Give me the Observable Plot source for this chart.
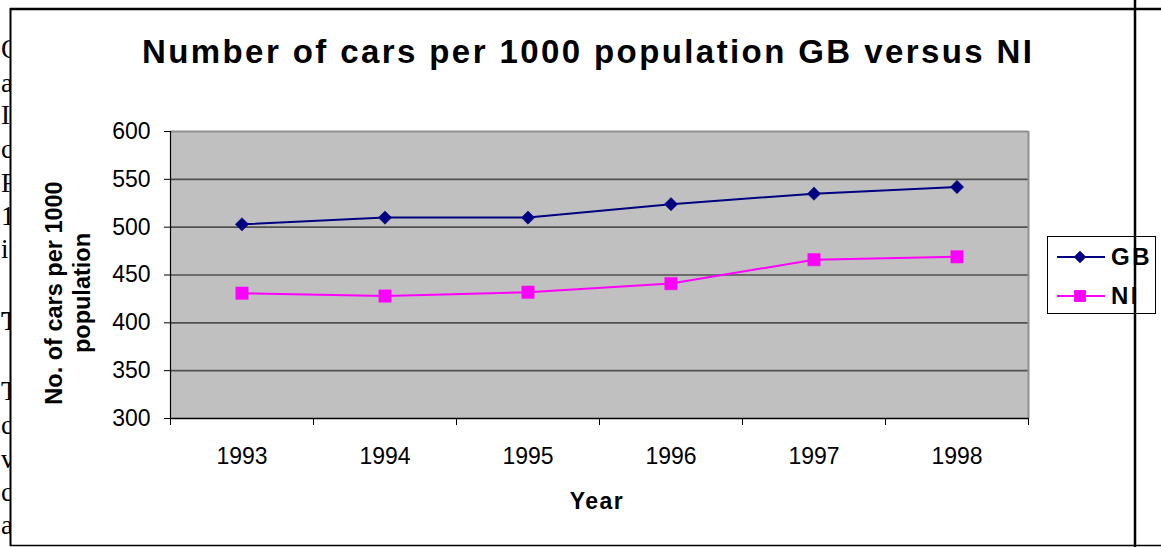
<!DOCTYPE html>
<html>
<head>
<meta charset="utf-8">
<script src="https://cdn.jsdelivr.net/npm/d3@7"></script>
<script src="https://cdn.jsdelivr.net/npm/@observablehq/plot@0.6"></script>
<style>
  html, body { margin: 0; padding: 0; background: #fff; }
  #wrap { position: relative; width: 1161px; height: 547px; overflow: hidden; font-family: "Liberation Sans", Arial, sans-serif; }
  #wrap > svg { position: absolute; left: 0; top: 0; }
  #doc { position: absolute; left: 0; top: 0; width: 10px; height: 547px; overflow: hidden; font-family: "Liberation Serif", "Times New Roman", serif; font-size: 27px; }
  #doc span { position: absolute; left: 1px; line-height: 1; }
</style>
</head>
<body>
<div id="wrap"><div id="doc"></div></div>
<script>
// ---- data ----
const years = [1993, 1994, 1995, 1996, 1997, 1998];
const gbValues = [503, 510, 510, 524, 535, 542];
const niValues = [431, 428, 432, 441, 466, 469];
const yTicks = [300, 350, 400, 450, 500, 550, 600];
const seriesNames = ["GB", "NI"];
const seriesColors = ["#000080", "#ff00ff"];
const seriesSymbols = ["diamond2", "square"];
const titleText = "Number of cars per 1000 population GB versus NI";
const yLabelLines = ["No. of cars per 1000", "population"];
const xLabelText = "Year";
const docLetters = ["C", "a", "I", "c", "F", "1", "i", "T", "T", "c", "v", "c", "a"];

const rows = years.flatMap((yr, i) => [
  {year: yr, value: gbValues[i], series: seriesNames[0]},
  {year: yr, value: niValues[i], series: seriesNames[1]}
]);
const bandEdges = years.map(y => y - 0.5).concat([years[years.length - 1] + 0.5]);

const W = 1161, H = 547;
const chart = Plot.plot({
  width: W, height: H,
  marginLeft: 170, marginRight: 133, marginTop: 131, marginBottom: 129,
  style: {fontFamily: "'Liberation Sans', Arial, sans-serif", fontSize: "23px", color: "#000", background: "transparent", overflow: "visible"},
  x: {type: "linear", domain: [bandEdges[0], bandEdges[bandEdges.length - 1]], axis: null},
  y: {domain: [yTicks[0], yTicks[yTicks.length - 1]], axis: null},
  color: {domain: seriesNames, range: seriesColors},
  marks: [
    Plot.frame({fill: "#c0c0c0", stroke: null}),
    Plot.ruleY(yTicks.slice(1, -1), {stroke: "#505050", strokeWidth: 1.6}),
    Plot.ruleY([yTicks[yTicks.length - 1]], {stroke: "#8f8f8f", strokeWidth: 2}),
    Plot.ruleX([bandEdges[bandEdges.length - 1]], {stroke: "#8f8f8f", strokeWidth: 2}),
    Plot.ruleY([yTicks[0]], {stroke: "#000", strokeWidth: 1.5}),
    Plot.ruleX([bandEdges[0]], {stroke: "#000", strokeWidth: 1.2}),
    Plot.axisY({ticks: yTicks, tickSize: 6, tickPadding: 14, tickFormat: d => String(d), label: null, stroke: "#000"}),
    Plot.axisX({ticks: bandEdges, tickSize: 7, tickFormat: () => "", label: null, stroke: "#000"}),
    Plot.axisX({ticks: years, tickSize: 0, tickPadding: 29, tickFormat: d => String(d), label: null}),
    Plot.line(rows, {x: "year", y: "value", z: "series", stroke: "series", strokeWidth: 2}),
    Plot.dot(rows.filter(d => d.series === seriesNames[0]), {x: "year", y: "value", symbol: () => seriesSymbols[0], fill: seriesColors[0], stroke: seriesColors[0], strokeWidth: 0.5, r: 6}),
    Plot.dot(rows.filter(d => d.series === seriesNames[1]), {x: "year", y: "value", symbol: () => seriesSymbols[1], fill: seriesColors[1], stroke: seriesColors[1], strokeWidth: 0.5, r: 7})
  ]
});
const wrap = document.getElementById("wrap");
wrap.appendChild(chart);

// ---- overlay: title, axis titles, legend, document frame ----
const ov = d3.select(wrap).append("svg")
  .attr("width", W).attr("height", H)
  .style("font-family", "'Liberation Sans', Arial, sans-serif");

ov.append("text")
  .attr("x", 142).attr("y", 63)
  .attr("textLength", 890).attr("lengthAdjust", "spacing")
  .attr("font-size", 33).attr("font-weight", "bold")
  .text(titleText);

const ylab = ov.append("g").attr("transform", "translate(0,293) rotate(-90)");
ylab.append("text").attr("x", 0).attr("y", 62).attr("text-anchor", "middle")
  .attr("font-size", 23.5).attr("font-weight", "bold").text(yLabelLines[0]);
ylab.append("text").attr("x", 0).attr("y", 90).attr("text-anchor", "middle")
  .attr("font-size", 23.5).attr("font-weight", "bold").text(yLabelLines[1]);

ov.append("text").attr("x", 597).attr("y", 509).attr("text-anchor", "middle")
  .attr("font-size", 23).attr("font-weight", "bold").attr("letter-spacing", 1.5)
  .text(xLabelText);

// legend
const lg = ov.append("g");
lg.append("rect").attr("x", 1047.5).attr("y", 236.5).attr("width", 108).attr("height", 77)
  .attr("fill", "#fff").attr("stroke", "#000").attr("stroke-width", 1);
const legendY = [257, 296];
seriesNames.forEach((name, i) => {
  const y = legendY[i];
  lg.append("line").attr("x1", 1057).attr("x2", 1105).attr("y1", y).attr("y2", y)
    .attr("stroke", seriesColors[i]).attr("stroke-width", 2);
  const sym = seriesSymbols[i] === "square" ? d3.symbolSquare : d3.symbolDiamond2;
  const size = seriesSymbols[i] === "square" ? 140 : 100;
  lg.append("path").attr("transform", `translate(1080,${y})`)
    .attr("d", d3.symbol(sym, size)()).attr("fill", seriesColors[i]);
  lg.append("text").attr("x", 1111).attr("y", y + 8).attr("font-size", 24)
    .attr("font-weight", "bold").attr("letter-spacing", 2.5).text(name);
});

// document frame lines
ov.append("line").attr("x1", 10).attr("x2", W).attr("y1", 9).attr("y2", 9).attr("stroke", "#000").attr("stroke-width", 2.5);
ov.append("line").attr("x1", 10.5).attr("x2", 10.5).attr("y1", 8).attr("y2", 546).attr("stroke", "#000").attr("stroke-width", 2);
ov.append("line").attr("x1", 10).attr("x2", W).attr("y1", 545.5).attr("y2", 545.5).attr("stroke", "#000").attr("stroke-width", 1.5);
ov.append("line").attr("x1", 1135).attr("x2", 1135).attr("y1", 0).attr("y2", H).attr("stroke", "#000").attr("stroke-width", 2.5);

// clipped document text at left edge (the chart sits over a page of text)
const docY = [36, 70, 102, 136, 170, 203, 236, 308, 378, 412, 446, 479, 512];
const doc = d3.select("#doc");
docLetters.forEach((ch, i) => {
  doc.append("span").style("top", docY[i] + "px")
    .style("font-weight", i === 7 ? "bold" : "normal").text(ch);
});
</script>
</body>
</html>
